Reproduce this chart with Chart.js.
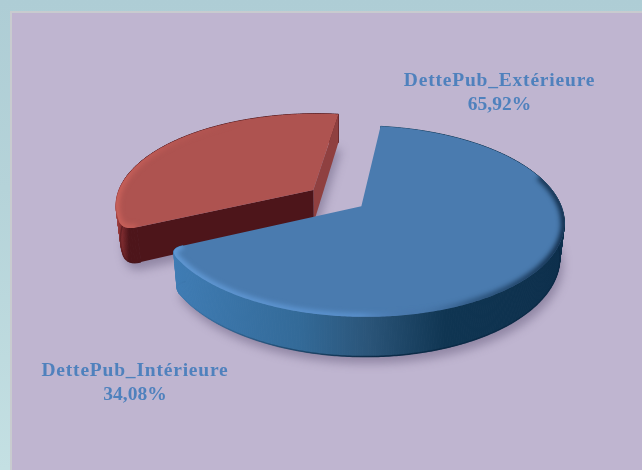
<!DOCTYPE html>
<html>
<head>
<meta charset="utf-8">
<script src="https://cdn.jsdelivr.net/npm/chart.js@4"></script>
<style>
html, body { margin: 0; padding: 0; width: 642px; height: 470px; overflow: hidden; }
body { background: linear-gradient(180deg, #aecdd5 0%, #b5d3d9 40%, #c4e0e3 100%); }
#panel { position: absolute; left: 10px; top: 11px; right: 0; bottom: 0; background: #bfb5d0;
  border-left: 2px solid #c8cbcf; border-top: 2px solid #c8cbcf; }
#pie { position: absolute; left: 0; top: 0; }
</style>
</head>
<body>
<div id="panel"></div>
<canvas id="pie" width="642" height="470"></canvas>
<script>
const categories = ["DettePub_Extérieure", "DettePub_Intérieure"];
const shares = [65.92, 34.08];
const sliceColors = ["#4a7baf", "#ae5350"];

// tilted view of the pie plane
const centerX = 337, centerY = 198, spreadX = 197, spreadY = 90.6, persp = 0.156, depth = 33;

const labelColor = "#4f81bd";
const labelAnchors = [[499.5, 81], [135, 371]];

// per slice shading: side wall stops, rim stops, cut faces
const sideStops = [
  [[174, "#3f7cb4"], [300, "#336a98"], [370, "#2a5478"], [445, "#0f3552"], [565, "#0d2f4c"]],
  [[114, "#b4524f"], [120, "#8a3033"], [129, "#4d151a"], [340, "#4d151a"]]
];
const rimStops = [
  [[170, "rgba(104,162,224,.8)"], [360, "rgba(96,154,218,.7)"], [420, "rgba(60,100,150,.15)"], [470, "rgba(15,45,75,.45)"], [565, "rgba(8,32,58,.9)"]],
  [[114, "rgba(210,102,94,.8)"], [170, "rgba(200,96,90,.4)"], [240, "rgba(190,90,85,0)"], [340, "rgba(190,90,85,0)"]]
];
const rimReach = [30, 200];
const cutColors = ["#8f4040", "#4d151a"];
const edgeStops = [
  [[174, "rgba(8,38,66,0)"], [300, "rgba(8,38,66,.5)"], [380, "rgba(8,38,66,.9)"], [560, "rgba(8,38,66,.6)"]],
  [[114, "rgba(60,15,20,.4)"], [340, "rgba(60,15,20,.4)"]]
];

function project(u, v, h) {
  const s = 1 / (1 - persp * v);
  const shrink = 1 - 0.02 * h;
  return [centerX + spreadX * u * s * shrink, centerY + spreadY * v * s + depth * s * h];
}

// outer edge of a slice at height h, with the corner nearest the viewer rounded off
function outerEdge(arc, h) {
  const start = arc.startAngle, end = arc.endAngle, mid = (start + end) / 2;
  const off = arc.options.offset / arc.outerRadius;
  const ox = Math.cos(mid) * off, oy = Math.sin(mid) * off;
  const at = (a, r) => project(ox + r * Math.cos(a), oy + r * Math.sin(a), h);
  const apex = project(ox, oy, h);
  const cut = 5 * Math.PI / 180;
  const roundStart = Math.sin(start) > Math.sin(end);
  const a0 = roundStart ? start + cut : start;
  const a1 = roundStart ? end : end - cut;
  const pts = [];
  const corner = (c, from, to, n) => {
    for (let i = 0; i <= n; i++) {
      const t = i / n, m = 1 - t;
      pts.push([m * m * from[0] + 2 * m * t * c[0] + t * t * to[0], m * m * from[1] + 2 * m * t * c[1] + t * t * to[1]]);
    }
  };
  const edgeNear = a => {
    const c = at(a, 1);
    return [c[0] + (apex[0] - c[0]) * 0.07, c[1] + (apex[1] - c[1]) * 0.07];
  };
  if (roundStart) corner(at(start, 1), edgeNear(start), at(a0, 1), 8);
  const steps = Math.ceil((a1 - a0) * 90);
  for (let i = 0; i <= steps; i++) pts.push(at(a0 + (a1 - a0) * i / steps, 1));
  if (!roundStart) corner(at(end, 1), at(a1, 1), edgeNear(end), 8);
  return { pts, apex, frontSlice: oy > 0, roundStart };
}

function trace(ctx, pts) {
  ctx.beginPath();
  pts.forEach((p, i) => i ? ctx.lineTo(p[0], p[1]) : ctx.moveTo(p[0], p[1]));
}

function hGradient(ctx, stops) {
  const x0 = stops[0][0], x1 = stops[stops.length - 1][0];
  const g = ctx.createLinearGradient(x0, 0, x1, 0);
  stops.forEach(s => g.addColorStop((s[0] - x0) / (x1 - x0), s[1]));
  return g;
}

function drawSlice(ctx, arc, i) {
  const top = outerEdge(arc, 0), bottom = outerEdge(arc, 1);
  const topFace = [top.apex].concat(top.pts);

  // soft ground shadow
  ctx.save();
  ctx.filter = "blur(5px)";
  ctx.fillStyle = "rgba(70,60,95,.38)";
  trace(ctx, [bottom.apex].concat(bottom.pts).map(p => [p[0] + 3, p[1] + 7]));
  ctx.closePath();
  ctx.fill();
  ctx.restore();

  // outer wall, one narrow quad at a time so the rounded corner stays filled
  const wall = hGradient(ctx, sideStops[i]);
  ctx.fillStyle = wall;
  ctx.strokeStyle = wall;
  ctx.lineWidth = 1;
  for (let k = 0; k + 1 < top.pts.length; k++) {
    trace(ctx, [top.pts[k], top.pts[k + 1], bottom.pts[k + 1], bottom.pts[k]]);
    ctx.closePath();
    ctx.fill();
    ctx.stroke();
  }

  ctx.strokeStyle = hGradient(ctx, edgeStops[i]);
  ctx.lineWidth = 1.5;
  trace(ctx, bottom.pts);
  ctx.stroke();

  // the flat cut faces only show on the slice pulled away from the viewer
  if (!top.frontSlice) {
    const last = top.pts.length - 1;
    const ends = top.roundStart ? [last, 0] : [0, last];
    ends.forEach((e, k) => {
      ctx.fillStyle = cutColors[k];
      trace(ctx, [top.apex, top.pts[e], bottom.pts[e], bottom.apex]);
      ctx.closePath();
      ctx.fill();
    });
  }

  // top face with a bevelled rim
  ctx.fillStyle = arc.options.backgroundColor;
  trace(ctx, topFace);
  ctx.closePath();
  ctx.fill();

  ctx.save();
  trace(ctx, topFace);
  ctx.closePath();
  ctx.clip();
  ctx.filter = "blur(2.5px)";
  ctx.strokeStyle = hGradient(ctx, rimStops[i]);
  ctx.lineWidth = 7;
  trace(ctx, top.pts.filter(p => p[1] > top.apex[1] - rimReach[i]));
  ctx.stroke();
  ctx.restore();
}

const tiltedPie = {
  id: "tiltedPie",
  beforeDatasetsDraw(chart) {
    const ctx = chart.ctx;
    const arcs = chart.getDatasetMeta(0).data;
    // back slice first
    [1, 0].forEach(i => drawSlice(ctx, arcs[i], i));

    ctx.save();
    ctx.fillStyle = labelColor;
    ctx.font = 'bold 19.5px "Liberation Serif"';
    ctx.textAlign = "center";
    ctx.textBaseline = "middle";
    categories.forEach((name, i) => {
      const a = labelAnchors[i];
      ctx.letterSpacing = "0.8px";
      ctx.fillText(name, a[0], a[1]);
      ctx.letterSpacing = "0px";
      ctx.fillText(shares[i].toFixed(2).replace(".", ",") + "%", a[0], a[1] + 24);
    });
    ctx.restore();
    return false;
  }
};

new Chart("pie", {
  type: "pie",
  data: {
    labels: categories,
    datasets: [{
      data: shares,
      backgroundColor: sliceColors,
      borderWidth: 0,
      offset: 33
    }]
  },
  options: {
    responsive: false,
    animation: false,
    rotation: 7.5,
    plugins: { legend: { display: false }, tooltip: { enabled: false } },
    events: []
  },
  plugins: [tiltedPie]
});
</script>
</body>
</html>
